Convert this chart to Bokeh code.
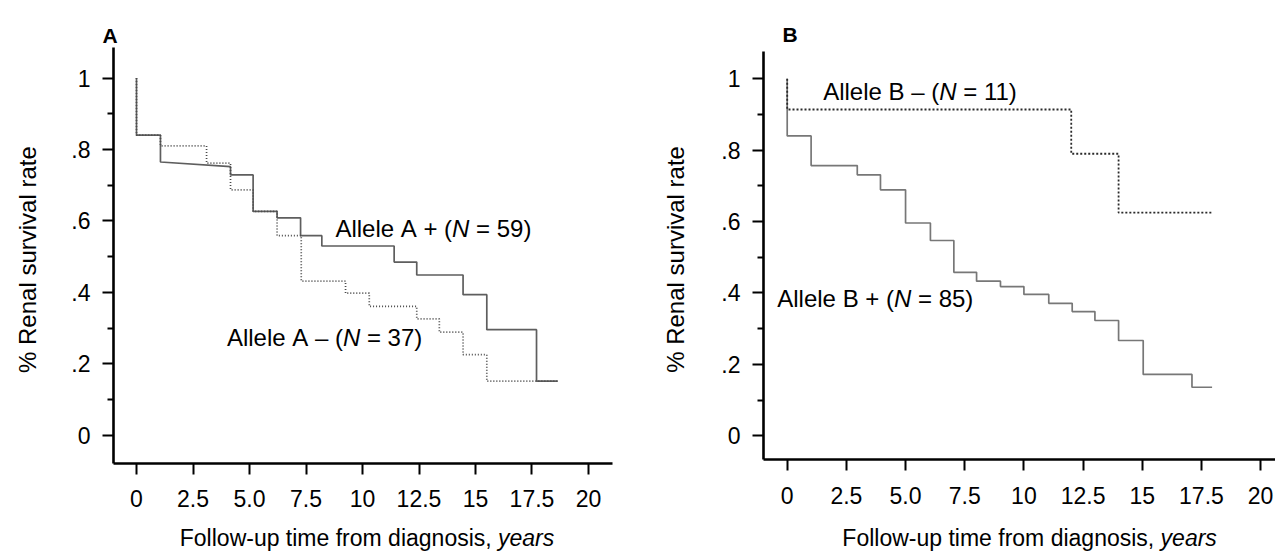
import math
from bokeh.plotting import figure
from bokeh.layouts import row
from bokeh.models import Label, FixedTicker, Range1d, LinearAxis
from bokeh.embed import file_html
from bokeh.resources import INLINE

FONT = "Liberation Sans"

# ---------------- data ----------------
x_ticks = [0, 2.5, 5, 7.5, 10, 12.5, 15, 17.5, 20]
x_tick_labels = ["0", "2.5", "5.0", "7.5", "10", "12.5", "15", "17.5", "20"]
y_ticks = [0, 0.2, 0.4, 0.6, 0.8, 1.0]
y_tick_labels = ["0", ".2", ".4", ".6", ".8", "1"]
y_minor_ticks = [0.1, 0.3, 0.5, 0.7, 0.9]

# Panel A, Allele A + (solid): event times / survival after event
a_pos_times = [0, 1.06, 4.16, 4.16, 5.16, 6.22, 7.26, 8.2, 11.4, 12.4, 14.45, 15.5, 17.7]
a_pos_surv = [0.84, 0.765, 0.752, 0.729, 0.627, 0.609, 0.559, 0.53, 0.485, 0.449, 0.394, 0.296, 0.152]
a_pos_ramp = [False, False, True, False, False, False, False, False, False, False, False, False, False]
a_pos_end = 18.64

# Panel A, Allele A - (dotted)
a_neg_times = [0, 1.06, 3.1, 4.16, 5.16, 6.22, 7.29, 9.25, 10.3, 12.4, 13.4, 14.45, 15.5]
a_neg_surv = [0.84, 0.81, 0.762, 0.687, 0.627, 0.559, 0.432, 0.398, 0.361, 0.326, 0.289, 0.226, 0.152]
a_neg_end = 18.64

# Panel B, Allele B + (solid)
b_pos_times = [0, 1.01, 2.96, 3.94, 5.0, 6.05, 7.04, 8.0, 9.01, 10.0, 11.05, 12.04, 13.0, 14.0, 15.04, 17.1]
b_pos_surv = [0.84, 0.757, 0.731, 0.689, 0.596, 0.547, 0.458, 0.433, 0.418, 0.396, 0.371, 0.348, 0.323, 0.267, 0.172, 0.136]
b_pos_end = 17.95

# Panel B, Allele B - (dotted)
b_neg_times = [0, 12.0, 14.0]
b_neg_surv = [0.914, 0.79, 0.625]
b_neg_end = 17.95

label_a_pos = ["Allele A + (", "N", " = 59)"]
label_a_neg = ["Allele A \u2013 (", "N", " = 37)"]
label_b_pos = ["Allele B + (", "N", " = 85)"]
label_b_neg = ["Allele B \u2013 (", "N", " = 11)"]
x_label_parts = ["Follow-up time from diagnosis, ", "years"]
y_label = "% Renal survival rate"

# Arial / Liberation Sans advance widths (per 1000 em)
W = {'A': 667, 'B': 667, 'N': 722, 'F': 611, 'l': 222, 'e': 556, ' ': 278, '\u00a0': 278,
     '+': 584, '\u2013': 556, '(': 333, ')': 333, '=': 584, 'o': 556, 'w': 722, '-': 333,
     'u': 556, 'p': 556, 't': 278, 'i': 222, 'm': 833, 'f': 278, 'r': 333, 'd': 556,
     'a': 556, 'g': 556, 'n': 556, 's': 500, ',': 278, 'y': 500}


def text_width(s, size):
    return sum(W.get(c, 556) for c in s) * size / 1000.0


def km_path(times, surv, end, ramp=None):
    xs, ys = [0.0], [1.0]
    prev = 1.0
    for i, (t, s) in enumerate(zip(times, surv)):
        if ramp is not None and ramp[i]:
            xs.append(t)
            ys.append(s)
        else:
            xs += [t, t]
            ys += [prev, s]
        prev = s
    xs.append(end)
    ys.append(prev)
    return xs, ys


def add_parts(p, parts, x, y, size, italic_idx=1, align="left"):
    parts = [s.replace(" ", "\u00a0") for s in parts]
    total = sum(text_width(s, size) for s in parts)
    off = 0.0 if align == "left" else -total / 2.0
    for i, s in enumerate(parts):
        p.add_layout(Label(x=x, y=y, x_offset=off, text=s, text_font=FONT,
                           text_font_size=f"{size}px", text_color="black",
                           text_baseline="middle", text_align="left",
                           text_font_style="italic" if i == italic_idx else "normal"))
        off += text_width(s, size)


def build(width, height, xr, yr, ax_x, ax_y, x_end, y_end):
    # the frame fills the whole figure; the axes sit at fixed data positions
    p = figure(width=width, height=height, x_range=Range1d(*xr), y_range=Range1d(*yr),
               output_backend="svg", toolbar_location=None, x_axis_location=None,
               y_axis_location=None, min_border=0)
    p.outline_line_color = None
    p.xgrid.visible = False
    p.ygrid.visible = False
    p.background_fill_color = "white"
    p.border_fill_color = "white"

    xax = LinearAxis(fixed_location=ax_y, bounds=(ax_x, x_end),
                     ticker=FixedTicker(ticks=x_ticks, minor_ticks=[]),
                     major_label_overrides={float(k): v for k, v in zip(x_ticks, x_tick_labels)})
    yax = LinearAxis(fixed_location=ax_x, bounds=(ax_y, y_end),
                     ticker=FixedTicker(ticks=y_ticks, minor_ticks=y_minor_ticks),
                     major_label_overrides={float(k): v for k, v in zip(y_ticks, y_tick_labels)})
    for ax in (xax, yax):
        ax.axis_line_width = 2.6
        ax.axis_line_color = "black"
        ax.major_tick_line_width = 2
        ax.major_tick_line_color = "black"
        ax.minor_tick_line_width = 2
        ax.minor_tick_line_color = "black"
        ax.major_tick_in = 0
        ax.major_tick_out = 11
        ax.minor_tick_in = 0
        ax.minor_tick_out = 6
        ax.major_label_text_font = FONT
        ax.major_label_text_font_size = "23px"
        ax.major_label_text_color = "black"
    xax.major_label_standoff = 16
    yax.major_label_standoff = 12
    p.add_layout(xax, "below")
    p.add_layout(yax, "left")
    return p


# ---------------- panel A ----------------
# picture mapping: x = 136 + 22.6 * t ; y = 435 - 357.5 * s   (figure covers x 0..640, y 0..555)
pa = build(640, 555, (-6.018, 22.301), (-0.3357, 1.2168), -1.018, -0.0783, 21.06, 1.0853)
xs, ys = km_path(a_pos_times, a_pos_surv, a_pos_end, a_pos_ramp)
pa.line(xs, ys, line_color="#5e5e5e", line_width=1.7)
xs, ys = km_path(a_neg_times, a_neg_surv, a_neg_end)
pa.line(xs, ys, line_color="#4a4a4a", line_width=1.7, line_dash="1 2")
add_parts(pa, label_a_pos, 8.8, 0.58, 24)
add_parts(pa, label_a_neg, 4.0, 0.275, 24)
add_parts(pa, x_label_parts, 10.2, -0.286, 23, align="center")
pa.add_layout(Label(x=-4.823, y=0.492, text=y_label, angle=math.pi / 2, text_font=FONT,
                    text_font_size="24px", text_align="center", text_baseline="middle",
                    text_color="black"))
pa.add_layout(Label(x=-1.5, y=1.12, text="A", text_font=FONT, text_font_size="21px",
                    text_font_style="bold", text_baseline="middle", text_color="black"))

# ---------------- panel B ----------------
# picture mapping: x = 786.7 + 23.67 * t ; y = 435.3 - 357 * s  (figure covers x 640..1275)
pb = build(635, 555, (-6.198, 20.629), (-0.3353, 1.2193), -1.001, -0.0664, 20.629, 1.0773)
xs, ys = km_path(b_pos_times, b_pos_surv, b_pos_end)
pb.line(xs, ys, line_color="#777777", line_width=1.7)
xs, ys = km_path(b_neg_times, b_neg_surv, b_neg_end)
pb.line(xs, ys, line_color="#2a2a2a", line_width=1.8, line_dash="2 2")
add_parts(pb, label_b_pos, -0.42, 0.384, 24)
add_parts(pb, label_b_neg, 1.52, 0.965, 24)
add_parts(pb, x_label_parts, 10.24, -0.286, 23, align="center")
pb.add_layout(Label(x=-4.719, y=0.494, text=y_label, angle=math.pi / 2, text_font=FONT,
                    text_font_size="24px", text_align="center", text_baseline="middle",
                    text_color="black"))
pb.add_layout(Label(x=-0.2, y=1.125, text="B", text_font=FONT, text_font_size="21px",
                    text_font_style="bold", text_baseline="middle", text_color="black"))

layout = row(pa, pb, spacing=0)
open("out.html", "w").write(file_html(layout, INLINE))
